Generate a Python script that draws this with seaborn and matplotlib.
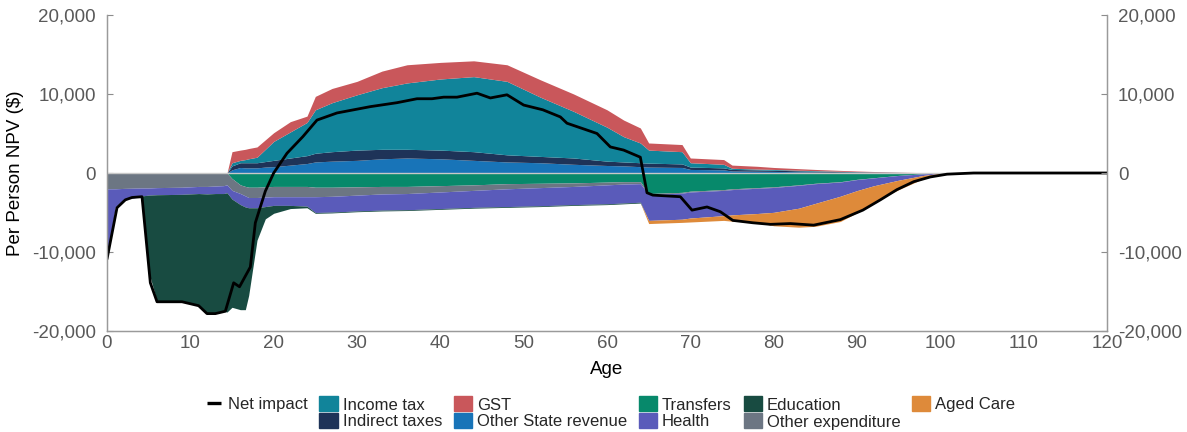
import matplotlib
matplotlib.use("Agg")
import matplotlib.pyplot as plt
from matplotlib.lines import Line2D
from matplotlib.patches import Patch
import seaborn as sns
import pandas as pd

ages = [0, 1, 2, 4, 4.2, 5, 6, 9, 11, 12, 13, 14, 14.4, 15, 16, 16.6, 17, 18, 19, 20, 22, 24,
        25, 27, 30, 33, 36, 40, 44, 48, 52, 56, 60, 62, 64,
        65, 69, 70, 74, 75, 78, 80, 83, 85, 88, 90, 92, 95, 98, 100, 103, 120]

# revenue side (stacked upwards)
other_state_revenue = [0]*13 + [400, 700, 650, 650, 650, 750, 800, 1000, 1200,
                       1400, 1500, 1600, 1800, 1900, 1800, 1600, 1400, 1300, 1100, 950, 900, 800,
                       750, 700, 450, 400, 250, 220, 200, 150, 120, 90, 70, 50, 30, 10, 0, 0, 0]
indirect_taxes = [0]*13 + [500, 600, 650, 650, 650, 700, 800, 900, 1000,
                  1100, 1200, 1300, 1200, 1100, 1100, 1100, 900, 800, 800, 550, 500, 500,
                  500, 450, 300, 250, 200, 180, 150, 130, 110, 80, 60, 50, 30, 10, 0, 0, 0]
income_tax = [0]*13 + [400, 300, 400, 500, 700, 1550, 2400, 3300, 4200,
              5500, 6200, 7000, 7800, 8400, 9000, 9500, 9300, 7500, 5900, 4300, 3200, 2500,
              1650, 1550, 550, 450, 150, 100, 100, 70, 70, 50, 40, 30, 20, 10, 0, 0, 0]
gst = [0]*13 + [1400, 1300, 1300, 1300, 1300, 1200, 1100, 1300, 800,
       1700, 1800, 1700, 2100, 2300, 2100, 2000, 2100, 2200, 2200, 2200, 2100, 1900,
       900, 900, 600, 600, 400, 350, 250, 200, 150, 110, 80, 60, 30, 10, 0, 0, 0]

# expenditure side (stacked downwards)
transfers = [0]*13 + [-700, -1500, -1700, -1800, -1800, -1750, -1700, -1700, -1700,
             -1800, -1800, -1750, -1700, -1700, -1600, -1500, -1350, -1300, -1250, -1150, -1100, -1100,
             -2600, -2450, -2300, -2100, -2000, -1850, -1750, -1500, -1300, -1100, -800, -600, -300, -100, 0, 0, 0]
other_expenditure = [-2000, -2000, -1950, -1900, -1900, -1900, -1850, -1800, -1700, -1700, -1650, -1600, -1500,
                     -1500, -1100, -1200, -1300, -1300, -1300, -1300, -1300, -1300,
                     -1200, -1150, -1050, -950, -900, -800, -700, -650, -550, -450, -350, -300, -250,
                     -100, -100, -100, -100, -100, -80, -80, -60, -50, -40, -30, -20, -10, 0, 0, 0, 0]
health = [-8900, -2300, -1400, -1100, -1000, -900, -900, -900, -900, -950, -950, -1000, -1000,
          -1100, -1400, -1400, -1300, -1300, -1200, -1100, -1100, -1200,
          -2000, -2000, -2000, -2050, -2050, -2100, -2150, -2250, -2300, -2300, -2400, -2400, -2350,
          -3300, -3300, -3300, -3200, -3200, -3200, -3150, -2900, -2500, -1800, -1400, -1000, -600, -200, -50, 0, 0]
education = [0, 0, 0, 0, 0, -9700, -13500, -13600, -14200, -15100, -15200, -14900, -15100,
             -13700, -13300, -13000, -11100, -4100, -1550, -1000, -400, -200,
             -100, -100, -100, -100, -100, -100, -100, -100, -100, -100, -100, -100, -100,
             0, 0, 0, 0, 0, 0, 0, 0, 0, 0, 0, 0, 0, 0, 0, 0, 0]
aged_care = [0]*35 + [-400, -400, -500, -600, -800, -1100, -1700, -2400, -2900, -3200, -2800, -2100,
                      -1200, -400, -100, 0, 0]

# net impact line
net_ages = [0, 1.2, 2.2, 3, 4.2, 5.2, 6, 9, 11, 12, 13, 14.2, 15.2, 15.9, 17.2, 17.8, 18.4, 19,
            20, 21.6, 23.5, 25.2, 27.6, 31.6, 34.8, 37.2, 39, 40.4, 42, 44.4, 46, 48, 50, 52.3,
            54.4, 55.2, 58.8, 60.4, 62, 64, 64.8, 65.5, 68.8, 70.2, 72, 73.6, 75.1, 77.5, 79.6,
            82, 84.8, 88, 90.7, 92.8, 94.8, 96.8, 98.8, 100.8, 104, 120]
net_impact = [-10900, -4400, -3400, -3100, -3000, -13900, -16300, -16300, -16800, -17800, -17800,
              -17500, -13900, -14400, -11900, -6300, -4300, -2300, 0, 2500, 4600, 6700, 7600,
              8400, 8900, 9400, 9400, 9600, 9600, 10100, 9500, 9900, 8600, 8000, 7100, 6300,
              5000, 3300, 2900, 2000, -2500, -2800, -3000, -4700, -4300, -4900, -6000, -6300,
              -6500, -6400, -6600, -5900, -4700, -3400, -2100, -1100, -500, -150, 0, 0]

x_ticks = [0, 10, 20, 30, 40, 50, 60, 70, 80, 90, 100, 110, 120]
y_ticks = [-20000, -10000, 0, 10000, 20000]

pos_labels = ["Other State revenue", "Indirect taxes", "Income tax", "GST"]
pos_colors = ["#1874B8", "#1E3358", "#11849A", "#C9575B"]
neg_labels = ["Transfers", "Other expenditure", "Health", "Education", "Aged Care"]
neg_colors = ["#07896B", "#6C7683", "#5A5BBA", "#184B41", "#DE8A3A"]

sns.set_theme(style="white")
plt.rcParams["font.family"] = ["Liberation Sans", "DejaVu Sans"]

fig = plt.figure(figsize=(11.87, 4.32), dpi=100)
ax = fig.add_axes([107/1187, 1 - 331/432, 1000/1187, 316/432])

ax.stackplot(ages, other_state_revenue, indirect_taxes, income_tax, gst,
             colors=pos_colors, linewidth=0)
ax.stackplot(ages, transfers, other_expenditure, health, education, aged_care,
             colors=neg_colors, linewidth=0)
ax.axhline(0, color="#C8C8C8", lw=1, zorder=3)

net_df = pd.DataFrame({"Age": net_ages, "Net": net_impact})
sns.lineplot(data=net_df, x="Age", y="Net", color="black", lw=2.0, ax=ax, zorder=4)

ax.set_xlim(0, 120)
ax.set_ylim(-20000, 20000)
ax.set_xticks(x_ticks)
ax.set_yticks(y_ticks)
ax.set_yticklabels([f"{v:,}" for v in y_ticks])
ax.set_xlabel("Age", fontsize=13.5, color="black", labelpad=6)
ax.set_ylabel("Per Person NPV ($)", fontsize=13.5, color="black", labelpad=6)

ax2 = ax.twinx()
ax2.set_ylim(-20000, 20000)
ax2.set_yticks(y_ticks)
ax2.set_yticklabels([f"{v:,}" for v in y_ticks])

for a in (ax, ax2):
    a.tick_params(axis="y", pad=8)
    a.tick_params(direction="in", length=4, width=0.8, colors="#8C8C8C",
                  labelcolor="#595959", labelsize=13.5)
    for side in ("left", "right", "bottom"):
        a.spines[side].set_color("#9A9A9A")
        a.spines[side].set_linewidth(0.9)
    a.spines["top"].set_visible(False)
ax.tick_params(axis="x", pad=3)

blank = Line2D([], [], alpha=0)
net_handle = Line2D([], [], color="black", marker="_", markersize=10, markeredgewidth=2.4,
                    linestyle="none")
handles = [net_handle, blank,
           Patch(color=pos_colors[2]), Patch(color=pos_colors[1]),
           Patch(color=pos_colors[3]), Patch(color=pos_colors[0]),
           Patch(color=neg_colors[0]), Patch(color=neg_colors[2]),
           Patch(color=neg_colors[3]), Patch(color=neg_colors[1]),
           Patch(color=neg_colors[4]), blank]
labels = ["Net impact", "", "Income tax", "Indirect taxes", "GST", "Other State revenue",
          "Transfers", "Health", "Education", "Other expenditure", "Aged Care", ""]
fig.legend(handles, labels, ncol=6, loc="upper center",
           bbox_to_anchor=(610/1187, 1 - 388/432), frameon=False, fontsize=12,
           handlelength=1.1, handleheight=1.0, handletextpad=0.3, columnspacing=0.7,
           labelspacing=0.05, borderpad=0)

fig.savefig("out.png", dpi=100)
